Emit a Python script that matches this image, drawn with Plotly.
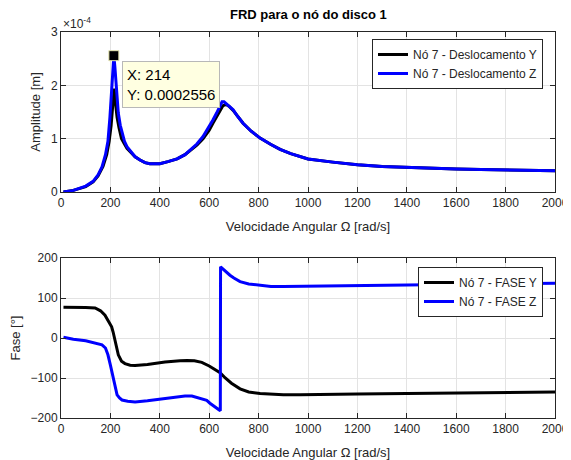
import plotly.graph_objects as go

# ---------------- data ----------------
# Amplitude, blue (Z) in units of 1e-4 m
w_amp_z = [10, 50, 100, 130, 150, 166, 180, 190, 198, 205, 210, 214, 218, 224, 232, 240, 247, 257, 267, 285,
           300, 320, 340, 360, 380, 400, 433, 470, 502, 522, 550, 575, 600, 615, 630, 644, 652, 660, 675, 697,
           715, 737, 770, 806, 850, 887, 930, 968, 1000, 1100, 1200, 1300, 1400, 1500, 1600, 1700, 1800, 1900, 2000]
amp_z = [0.0, 0.03, 0.11, 0.2, 0.32, 0.47, 0.7, 0.95, 1.4, 1.9, 2.35, 2.556, 2.35, 1.9, 1.48, 1.25, 1.1, 0.95, 0.85, 0.74,
         0.66, 0.6, 0.55, 0.53, 0.525, 0.53, 0.57, 0.62, 0.7, 0.79, 0.9, 1.04, 1.22, 1.35, 1.48, 1.63, 1.69, 1.69, 1.63, 1.54,
         1.42, 1.29, 1.14, 1.01, 0.89, 0.8, 0.72, 0.66, 0.62, 0.56, 0.51, 0.48, 0.46, 0.445, 0.43, 0.42, 0.41, 0.405, 0.4]

# Amplitude, black (Y)
w_amp_y = [10, 50, 100, 130, 150, 170, 185, 195, 203, 210, 215, 220, 227, 235, 245, 257, 267, 285,
           300, 320, 340, 360, 380, 400, 433, 470, 502, 522, 550, 575, 600, 615, 630, 645, 656, 668, 680, 697,
           715, 737, 770, 806, 850, 887, 930, 968, 1000, 1100, 1200, 1300, 1400, 1500, 1600, 1700, 1800, 1900, 2000]
amp_y = [0.0, 0.03, 0.1, 0.19, 0.3, 0.48, 0.7, 0.95, 1.25, 1.6, 1.94, 1.7, 1.4, 1.2, 1.0, 0.9, 0.82, 0.73,
         0.66, 0.6, 0.55, 0.53, 0.525, 0.53, 0.57, 0.62, 0.7, 0.78, 0.88, 1.0, 1.16, 1.29, 1.42, 1.54, 1.62, 1.64, 1.61, 1.53,
         1.42, 1.29, 1.14, 1.01, 0.89, 0.8, 0.72, 0.66, 0.62, 0.56, 0.51, 0.48, 0.46, 0.445, 0.43, 0.42, 0.41, 0.405, 0.4]
amp_scale = 1e-4

# Phase, blue (Z) in degrees
w_ph_z = [10, 50, 100, 140, 166, 180, 190, 200, 211, 220, 227, 237, 247, 270, 300, 350, 421, 460, 502, 530,
          563, 590, 603, 620, 640, 645, 646, 660, 684, 700, 725, 760, 806, 850, 900, 968, 1000, 1200, 1400, 1600, 1800, 2000]
ph_z = [2, -3, -7, -12, -17, -25, -42, -68, -100, -125, -142, -150, -155, -158, -160, -157, -152, -148, -145, -145,
        -150, -156, -163, -170, -179, -182, 178, 170, 157, 150, 141, 135, 131, 129, 128.5, 129, 129, 131, 133, 135, 136, 137]

# Phase, black (Y)
w_ph_y = [10, 50, 100, 138, 160, 178, 195, 205, 211, 218, 225, 232, 245, 259, 280, 300, 350, 421, 482, 510, 540,
          570, 600, 620, 644, 665, 690, 725, 760, 806, 850, 900, 968, 1000, 1200, 1400, 1600, 1800, 2000]
ph_y = [77, 77, 76, 75, 68, 57, 40, 28, 15, -5, -25, -42, -58, -64, -68, -69, -66, -60, -57, -56, -57,
        -61, -70, -77, -87, -100, -113, -127, -135, -139, -141, -142, -142, -141.5, -140, -138.5, -137, -136, -135]

tip_x = 214
tip_y = 2.556e-4

x_ticks = list(range(0, 2001, 200))
amp_ticks = [0, 1, 2, 3]
ph_ticks = [-200, -100, 0, 100, 200]

# ---------------- figure ----------------
FONT = "Liberation Sans, Arial, sans-serif"
AX = "#262626"
GRID = "#e3e3e3"

fig = go.Figure()
fig.add_trace(go.Scatter(x=w_amp_y, y=[v * amp_scale for v in amp_y], mode="lines",
                         line=dict(color="black", width=3), name="Nó 7 - Deslocamento Y",
                         xaxis="x", yaxis="y", legend="legend"))
fig.add_trace(go.Scatter(x=w_amp_z, y=[v * amp_scale for v in amp_z], mode="lines",
                         line=dict(color="#0000ff", width=3), name="Nó 7 - Deslocamento Z",
                         xaxis="x", yaxis="y", legend="legend"))
fig.add_trace(go.Scatter(x=[tip_x], y=[tip_y], mode="markers",
                         marker=dict(symbol="square", size=10, color="black",
                                     line=dict(color="#e8e8b0", width=1)),
                         showlegend=False, xaxis="x", yaxis="y"))
fig.add_trace(go.Scatter(x=w_ph_y, y=ph_y, mode="lines",
                         line=dict(color="black", width=3), name="Nó 7 - FASE Y",
                         xaxis="x2", yaxis="y2", legend="legend2"))
fig.add_trace(go.Scatter(x=w_ph_z, y=ph_z, mode="lines",
                         line=dict(color="#0000ff", width=3), name="Nó 7 - FASE Z",
                         xaxis="x2", yaxis="y2", legend="legend2"))

common_x = dict(range=[0, 2000], tickvals=x_ticks, ticks="inside", ticklen=5, tickcolor=AX,
                showline=True, linecolor=AX, linewidth=1, mirror="allticks", automargin=False,
                showgrid=True, gridcolor=GRID, zeroline=False,
                tickfont=dict(family=FONT, size=12, color=AX),
                title=dict(text="Velocidade Angular Ω [rad/s]", font=dict(family=FONT, size=13, color=AX),
                           standoff=12))
common_y = dict(ticks="inside", ticklen=5, tickcolor=AX, automargin=False,
                showline=True, linecolor=AX, linewidth=1, mirror="allticks",
                showgrid=True, gridcolor=GRID, zeroline=False,
                tickfont=dict(family=FONT, size=12, color=AX))

fig.update_layout(
    width=571, height=460,
    margin=dict(l=53, r=24, t=24, b=50),
    paper_bgcolor="white", plot_bgcolor="white",
    font=dict(family=FONT, size=12, color=AX),
    xaxis=dict(**common_x, domain=[0, 1], anchor="y"),
    yaxis=dict(**common_y, domain=[0.5855, 1], anchor="x", range=[0, 3e-4],
               tickvals=[t * amp_scale for t in amp_ticks], ticktext=[str(t) for t in amp_ticks],
               title=dict(text="Amplitude [m]", font=dict(family=FONT, size=13, color=AX), standoff=7)),
    xaxis2=dict(**common_x, domain=[0, 1], anchor="y2"),
    yaxis2=dict(**common_y, domain=[0, 0.4145], anchor="x2", range=[-200, 200],
                tickvals=ph_ticks,
                title=dict(text="Fase [°]", font=dict(family=FONT, size=13, color=AX), standoff=7)),
    legend=dict(x=0.9757, y=0.9819, xanchor="right", yanchor="top", bgcolor="white",
                bordercolor=AX, borderwidth=1, font=dict(family=FONT, size=12, color=AX),
                tracegroupgap=0, itemwidth=30),
    legend2=dict(x=0.9757, y=0.3912, xanchor="right", yanchor="top", bgcolor="white",
                 bordercolor=AX, borderwidth=1, font=dict(family=FONT, size=12, color=AX),
                 tracegroupgap=0, itemwidth=30),
    showlegend=True,
)

fig.add_annotation(text="<b>FRD para o nó do disco 1</b>", xref="paper", yref="paper",
                   x=0.5, y=1.0466, xanchor="center", yanchor="middle", showarrow=False,
                   font=dict(family=FONT, size=13, color="black"))
fig.add_annotation(text="×10<sup>-4</sup>", xref="paper", yref="paper",
                   x=0.0, y=1.0233, xanchor="left", yanchor="middle", showarrow=False,
                   font=dict(family=FONT, size=12, color=AX))
fig.add_annotation(text="X: 214<br>Y: 0.0002556", xref="x", yref="y",
                   x=247, y=2.456e-4, xanchor="left", yanchor="top", showarrow=False, align="left",
                   bgcolor="#ffffe1", bordercolor="#b8b8b8", borderwidth=1, borderpad=4,
                   font=dict(family=FONT, size=15, color="black"))

fig.write_html("out.html")
